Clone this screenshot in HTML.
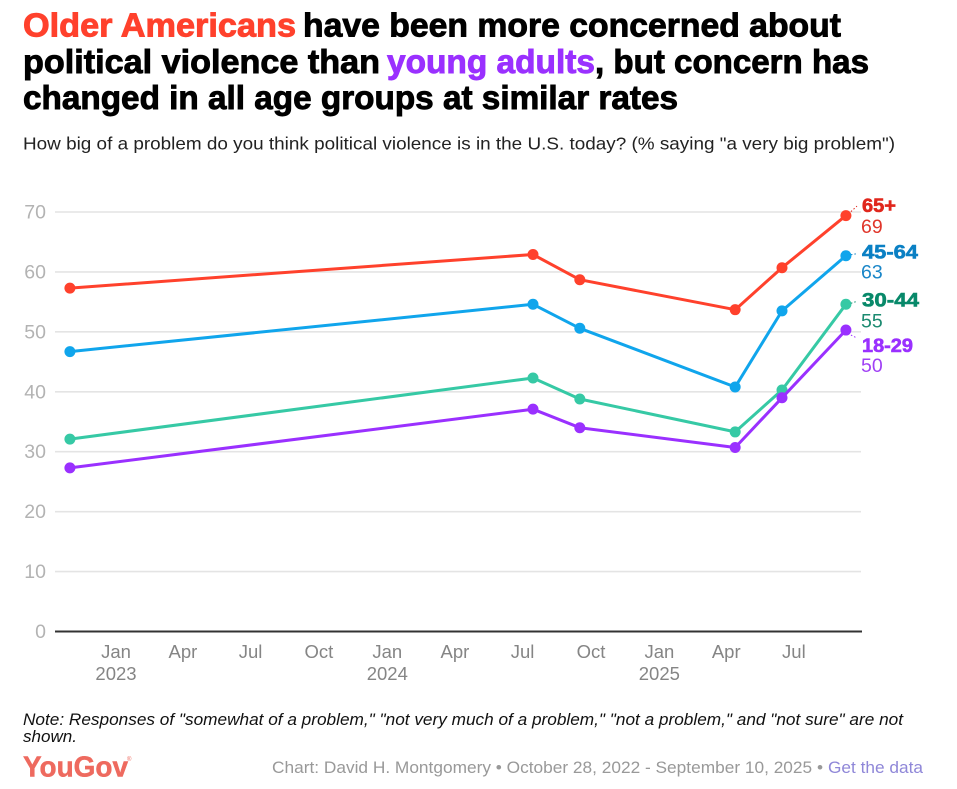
<!DOCTYPE html>
<html>
<head>
<meta charset="utf-8">
<title>Concern about political violence by age</title>
<style>
html,body{margin:0;padding:0;background:#fff;}
svg{display:block;font-family:"Liberation Sans",sans-serif;}
.t{font-size:33.5px;font-weight:bold;stroke-width:.9px;}
</style>
</head>
<body>
<svg id="chart" width="957" height="789" viewBox="0 0 957 789">
<rect width="957" height="789" fill="#fff"/>
<g>
<text class="t" x="23" y="36.5" fill="#ff412c" stroke="#ff412c" textLength="273" lengthAdjust="spacingAndGlyphs">Older Americans</text>
<text class="t" x="303" y="36.5" fill="#000" stroke="#000" textLength="538" lengthAdjust="spacingAndGlyphs">have been more concerned about</text>
<text class="t" x="23" y="73" fill="#000" stroke="#000" textLength="357" lengthAdjust="spacingAndGlyphs">political violence than</text>
<text class="t" x="387" y="73" fill="#9a30ff" stroke="#9a30ff" textLength="208" lengthAdjust="spacingAndGlyphs">young adults</text>
<text class="t" x="595" y="73" fill="#000" stroke="#000" textLength="274" lengthAdjust="spacingAndGlyphs">, but concern has</text>
<text class="t" x="23" y="109" fill="#000" stroke="#000" textLength="655" lengthAdjust="spacingAndGlyphs">changed in all age groups at similar rates</text>
</g>
<text x="23" y="149.5" font-size="17.5" fill="#222" textLength="872" lengthAdjust="spacingAndGlyphs">How big of a problem do you think political violence is in the U.S. today? (% saying "a very big problem")</text>
<g id="grid"></g>
<g id="xaxis"></g>
<g id="series"></g>
<g id="labels"></g>
<text x="23" y="725" font-size="16.5" font-style="italic" fill="#111" textLength="880" lengthAdjust="spacingAndGlyphs">Note: Responses of "somewhat of a problem," "not very much of a problem," "not a problem," and "not sure" are not</text>
<text x="23" y="742" font-size="16.5" font-style="italic" fill="#111" textLength="54" lengthAdjust="spacingAndGlyphs">shown.</text>
<text x="23" y="776.5" font-size="28.5" font-weight="bold" fill="#ee6a5f" stroke="#ee6a5f" stroke-width="0.5" textLength="105" lengthAdjust="spacingAndGlyphs">YouGov</text>
<text x="127" y="761" font-size="6" fill="#ee6a5f">®</text>
<text x="272" y="773" font-size="17" fill="#999" textLength="551" lengthAdjust="spacingAndGlyphs">Chart: David H. Montgomery • October 28, 2022 - September 10, 2025 •</text>
<text x="828" y="773" font-size="17" fill="#8f87d8" textLength="95" lengthAdjust="spacingAndGlyphs">Get the data</text>
</svg>
<script>
var surveyDates = ["2022-10-31","2024-07-15","2024-09-16","2025-04-13","2025-06-15","2025-09-09"];
var ages65Plus = [57.3,62.9,58.7,53.7,60.7,69.4];
var ages45to64 = [46.7,54.6,50.6,40.8,53.5,62.7];
var ages30to44 = [32.1,42.3,38.8,33.3,40.3,54.6];
var ages18to29 = [27.3,37.1,34.0,30.7,39.0,50.3];
var seriesNames = ["65+","45-64","30-44","18-29"];
var yTicks = [0,10,20,30,40,50,60,70];
var xTickDates = ["2023-01-01","2023-04-01","2023-07-01","2023-10-01","2024-01-01","2024-04-01","2024-07-01","2024-10-01","2025-01-01","2025-04-01","2025-07-01"];
var xTickLabels = ["Jan","Apr","Jul","Oct","Jan","Apr","Jul","Oct","Jan","Apr","Jul"];
var xTickYears = ["2023","","","","2024","","","","2025","",""];

var NS = "http://www.w3.org/2000/svg";
var allSeries = [ages65Plus, ages45to64, ages30to44, ages18to29];
var lineColors = ["#ff412c","#10a5ec","#36c9a5","#9a30ff"];
var nameColors = ["#e0261c","#0a80c4","#08896a","#9a30ff"];
var valueColors = ["#e0352a","#1a86c8","#1b8a70","#a040f5"];
var nameWidths = [34,56,57,51];
var nameOffsets = [-3.5,3,2,22];
var valueOffsets = [17.5,23,23,42];

function xScale(dateString){
  var days = (Date.parse(dateString) - Date.parse("2023-01-01")) / 86400000;
  return 116 + days * 0.7433;
}
function yScale(value){
  return 631.5 - value * 5.993;
}
function make(tag, attrs, parent, text){
  var el = document.createElementNS(NS, tag);
  for (var k in attrs) el.setAttribute(k, attrs[k]);
  if (text !== undefined) el.textContent = text;
  parent.appendChild(el);
  return el;
}

var gridGroup = document.getElementById("grid");
yTicks.forEach(function(tick){
  var y = yScale(tick);
  if (tick > 0) {
    var line = make("line", {x1:55, x2:861, y1:y, y2:y, stroke:"#e4e4e4", "stroke-width":1.6}, gridGroup);
    
    
  }
  var label = make("text", {x:46, y:y+6.5, "text-anchor":"end", "font-size":19.5, fill:"#b3b3b3"}, gridGroup, String(tick));
  
  
});

var axisGroup = document.getElementById("xaxis");
var baseline = make("line", {x1:55, x2:862, y1:yScale(0), y2:yScale(0), stroke:"#333", "stroke-width":2}, axisGroup);


xTickDates.forEach(function(d, i){
  var x = xScale(d);
  var month = make("text", {x:x, y:658, "text-anchor":"middle", "font-size":18.5, fill:"#858585"}, axisGroup, xTickLabels[i]);
  
  
  if (xTickYears[i]) {
    var year = make("text", {x:x, y:680, "text-anchor":"middle", "font-size":18.5, fill:"#858585"}, axisGroup, xTickYears[i]);
    
    
  }
});

var seriesGroup = document.getElementById("series");
var labelGroup = document.getElementById("labels");
[0,1,2,3].forEach(function(s){
  var values = allSeries[s];
  var color = lineColors[s];
  var pts = values.map(function(v, i){ return xScale(surveyDates[i]).toFixed(1) + "," + yScale(v).toFixed(1); }).join(" ");
  var g = make("g", {}, seriesGroup);
  
  
  var poly = make("polyline", {points:pts, fill:"none", stroke:color, "stroke-width":3, "stroke-linejoin":"round"}, g);
  
  
  values.forEach(function(v, i){
    var dot = make("circle", {cx:xScale(surveyDates[i]), cy:yScale(v), r:5.5, fill:color}, g);
    
    
  });
  var lastValue = values[values.length - 1];
  var lastX = xScale(surveyDates[surveyDates.length - 1]);
  var lastY = yScale(lastValue);
  var nameY = lastY + nameOffsets[s];
  var leaderEndY = s === 3 ? nameY - 14 : nameY - (s === 0 ? 6 : 5);
  var leader = make("line", {x1:lastX + 5, y1:lastY + (s === 3 ? 5 : s === 0 ? -4 : -1), x2:857, y2:leaderEndY, stroke:nameColors[s], "stroke-width":1, "stroke-dasharray":"1.5 2"}, labelGroup);
  
  
  var nameText = make("text", {x:862, y:nameY, "font-size":19, "font-weight":"bold", fill:nameColors[s], stroke:nameColors[s], "stroke-width":0.6, textLength:nameWidths[s], lengthAdjust:"spacingAndGlyphs"}, labelGroup, seriesNames[s]);
  
  
  var valueText = make("text", {x:861, y:lastY + valueOffsets[s], "font-size":19.5, fill:valueColors[s]}, labelGroup, String(Math.round(lastValue)));
  
  
});
</script>
</body>
</html>
